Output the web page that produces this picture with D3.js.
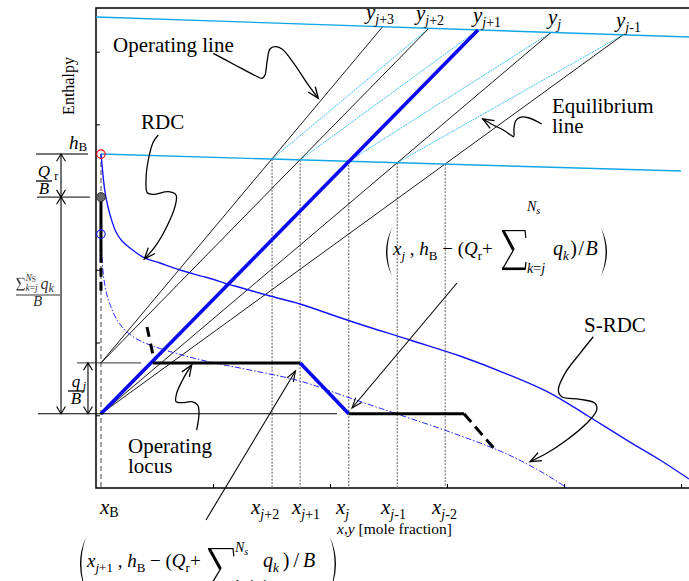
<!DOCTYPE html>
<html><head><meta charset="utf-8">
<script src="https://cdn.jsdelivr.net/npm/d3@7"></script>
<style>
body{margin:0;background:#fff}
svg{display:block}
text{font-family:"Liberation Serif","Times New Roman",serif;fill:#000}
</style>
</head><body>
<svg id="chart" width="689" height="581" font-family="Liberation Serif"></svg>
<script>
// Enthalpy–composition construction of a stripping section with side heat removal
const xB = 0.0085;            // bottoms composition
const hB = 4.592;             // bottoms enthalpy
const hQr = 4.0;              // h_B - Q_r/B
const hOpUpper = 1.72;        // h_B - (Q_r + sum_{k=j+1} q_k)/B
const hOpLower = 1.02;        // h_B - (Q_r + sum_{k=j} q_k)/B
const hSrdcStart = 3.492;     // start of the S-RDC on x = x_B

const liquidLine = [[0.0085, 4.592], [1.0, 4.358]];
const vaporLine  = [[0, 6.476], [1.02, 6.199]];

const xStages    = [0.301, 0.349, 0.432, 0.515, 0.597];
const xStageSubs = ["j+2", "j+1", "j", "j-1", "j-2"];
const yStages    = [0.490, 0.569, 0.653, 0.778, 0.901];
const yStageSubs = ["j+3", "j+2", "j+1", "j", "j-1"];
const opOrigins  = [hOpUpper, hOpUpper, hOpLower, hOpLower, hOpLower];

const rdc = [[0.0085,4.592],[0.0103,4.441],[0.0128,4.235],[0.0154,4.070],[0.0205,3.864],
  [0.0256,3.712],[0.0342,3.520],[0.0444,3.396],[0.0581,3.300],[0.0803,3.176],[0.1094,3.094],
  [0.1436,2.997],[0.1863,2.901],[0.2376,2.777],[0.2974,2.640],[0.3487,2.530],[0.4342,2.296],
  [0.5368,2.035],[0.6222,1.815],[0.7026,1.567],[0.7761,1.306],[0.8410,0.990],[0.9128,0.632],
  [0.9641,0.385],[1.0137,0.124]];

const srdc = [[0.0085,3.492],[0.0094,3.272],[0.0111,3.066],[0.0137,2.860],[0.0188,2.654],
  [0.0256,2.489],[0.0359,2.310],[0.0496,2.172],[0.0667,2.062],[0.0923,1.966],[0.1350,1.856],
  [0.1949,1.732],[0.2632,1.622],[0.3487,1.471],[0.4342,1.237],[0.5197,1.004],[0.6051,0.770],
  [0.6906,0.509],[0.7368,0.330],[0.7761,0.151],[0.8051,0]];

// operating locus pieces
const locusUpper = [[0.097, hOpUpper], [0.349, hOpUpper]];
const locusStep  = [[0.349, hOpUpper], [0.432, hOpLower]];
const locusLower = [[0.432, hOpLower], [0.629, hOpLower]];
const locusNext  = [[0.629, hOpLower], [0.680, 0.55]];
const locusPrev  = [[0.0872, 2.214], [0.0974, 1.829]];

const xTicks = [0.2, 0.4, 0.6, 0.8, 1.0];
const yTicks = [1, 2, 3, 4, 5, 6];

// ---- annotation layout (data units) ----
const xLabelAt = [0.265, 0.335, 0.4103, 0.4872, 0.5744];
const yLabelAt = [0.4615, 0.547, 0.6444, 0.7726, 0.8889];
const notes = [
  {t:"Operating line", at:[0.0291, 5.991]},
  {t:"RDC", at:[0.0769, 4.932]},
  {t:"Equilibrium", at:[0.7795, 5.152]},
  {t:"line", at:[0.7795, 4.877]},
  {t:"S-RDC", at:[0.8342, 2.149]},
  {t:"Operating", at:[0.0547, 0.477]},
  {t:"locus", at:[0.0547, 0.202]}
];
const leaders = [
  [[0.2005,5.977],[0.2376,5.816],[0.2718,5.672],[0.2838,5.633],[0.2889,5.679],[0.2923,5.857],
   [0.2974,6.036],[0.3060,6.068],[0.3179,6.036],[0.3402,5.816],[0.3607,5.568],[0.3800,5.358]],
  [[0.1065,4.854],[0.0979,4.757],[0.0894,4.510],[0.0855,4.235],[0.0877,4.060],[0.0979,4.038],
   [0.1236,4.074],[0.1368,4.029],[0.1350,3.868],[0.1209,3.593],[0.1009,3.318],[0.0826,3.149]],
  [[0.7619,5.005],[0.7390,5.091],[0.7248,5.097],[0.7174,5.050],[0.7145,4.946],[0.7140,4.830],
   [0.7089,4.854],[0.6962,4.922],[0.6791,4.991],[0.6610,5.074]],
  [[0.1721,0.797],[0.1761,1.027],[0.1738,1.141],[0.1636,1.187],[0.1482,1.173],[0.1368,1.187],
   [0.1379,1.302],[0.1465,1.462],[0.1561,1.599],[0.1636,1.691]],
  [[0.8501,2.080],[0.8274,1.852],[0.8017,1.577],[0.7903,1.347],[0.7961,1.255],[0.8274,1.220],
   [0.8530,1.165],[0.8559,1.072],[0.8388,0.890],[0.8046,0.660],[0.7704,0.477],[0.7419,0.362]]
];
const pointers = [
  [[0.6171, 2.819], [0.4376, 1.100]],
  [[0.1880, -0.440], [0.3410, 1.609]]
];

// ---- scales ----
const x = d3.scaleLinear().domain([0, 1]).range([96, 681]);
const y = d3.scaleLinear().domain([0, 6.6]).range([488, 8]);
const liquidAt = d3.scaleLinear().domain([liquidLine[0][0], liquidLine[1][0]]).range([liquidLine[0][1], liquidLine[1][1]]);
const vaporAt  = d3.scaleLinear().domain([vaporLine[0][0], vaporLine[1][0]]).range([vaporLine[0][1], vaporLine[1][1]]);

const svg = d3.select("#chart");
const line = d3.line().x(d => x(d[0])).y(d => y(d[1]));
const smooth = d3.line().x(d => x(d[0])).y(d => y(d[1])).curve(d3.curveCatmullRom.alpha(0.5));

function seg(g, pts, stroke, w, dash) {
  const p = g.append("path").attr("d", line(pts)).attr("fill", "none")
    .attr("stroke", stroke).attr("stroke-width", w);
  if (dash) p.attr("stroke-dasharray", dash);
  return p;
}
function head(g, p, q, len, ang, w) {
  const a = Math.atan2(q[1] - p[1], q[0] - p[0]);
  g.append("path").attr("fill", "none").attr("stroke", "#000").attr("stroke-width", w || 1.2)
    .attr("d", `M${q[0] - len * Math.cos(a - ang)},${q[1] - len * Math.sin(a - ang)}L${q[0]},${q[1]}L${q[0] - len * Math.cos(a + ang)},${q[1] - len * Math.sin(a + ang)}`);
}
function rich(g, px, py, parts, base) {
  const t = g.append("text").attr("x", px).attr("y", py).attr("font-size", base);
  parts.forEach(p => {
    const s = t.append("tspan").text(p.t).attr("y", py + (p.dy || 0)).attr("font-size", p.s || base);
    if (p.it) s.attr("font-style", "italic");
    if (p.dx) s.attr("dx", p.dx);
    if (p.ls) s.attr("letter-spacing", p.ls);
  });
  return t;
}
function subParts(name, size, dy) {
  return [{t: name[0], it: name[0] === "j", s: size, dy: dy}].concat(
    name.length > 1 ? [{t: name.slice(1), s: size, dy: dy}] : []);
}
function sigma(g, x0, y0, w, h, col, k) {
  const c = col || "#000", f = k || 1;
  const st = (d, sw) => g.append("path").attr("d", d).attr("fill", "none").attr("stroke", c).attr("stroke-width", sw * f);
  st(`M${x0},${y0 + 0.6 * f}L${x0 + w},${y0 + 0.6 * f}`, 1.2);
  st(`M${x0 + w},${y0}L${x0 + w + 0.8 * f},${y0 + h * 0.2}`, 1.2);
  st(`M${x0 + 1.2 * f},${y0 + 0.6 * f}L${x0 + w * 0.5},${y0 + h * 0.5}`, 3);
  st(`M${x0 + w * 0.5},${y0 + h * 0.5}L${x0 + 0.5 * f},${y0 + h - 1 * f}`, 1.3);
  st(`M${x0},${y0 + h - 1.2 * f}L${x0 + w},${y0 + h - 1.2 * f}`, 2.6);
  st(`M${x0 + w},${y0 + h}L${x0 + w + 1 * f},${y0 + h * 0.8}`, 1.3);
}

// ---- frame and ticks ----
svg.append("path").attr("fill", "none").attr("stroke", "#000").attr("stroke-width", 1.5)
  .attr("d", `M${x(1.02)},${y(6.6)}L${x(0)},${y(6.6)}L${x(0)},${y(0)}L${x(1.02)},${y(0)}`);
svg.append("g").attr("transform", `translate(0,${y(0)})`)
  .call(d3.axisBottom(x).tickValues(xTicks).tickSize(-4).tickFormat(""))
  .call(a => a.select(".domain").remove())
  .call(a => a.selectAll("line").attr("stroke-width", 1));
svg.append("g").attr("transform", `translate(${x(0)},0)`)
  .call(d3.axisLeft(y).tickValues(yTicks).tickSize(-4).tickFormat(""))
  .call(a => a.select(".domain").remove())
  .call(a => a.selectAll("line").attr("stroke-width", 1));

const plot = svg.append("g");

// stage verticals
xStages.forEach(xs => seg(plot, [[xs, liquidAt(xs)], [xs, 0]], "#808080", 1.3, "2,1.4"));
// x_B vertical
seg(plot, [[xB, hB], [xB, 0]], "#555", 1.1, "5,3");

// equilibrium tie lines
xStages.slice(0, 4).forEach((xs, i) =>
  seg(plot, [[xs, liquidAt(xs)], [yStages[i + 1], vaporAt(yStages[i + 1])]], "#3ec3f2", 1, "2,0.8"));

// operating lines
yStages.forEach((ys, i) => {
  if (i === 2) return;
  seg(plot, [[xB, opOrigins[i]], [ys, vaporAt(ys)]], "#000", 0.9);
});

// saturated lines
seg(plot, vaporLine, "#12a6e4", 1.4);
seg(plot, liquidLine, "#12a6e4", 1.4);

// RDC and S-RDC
plot.append("path").attr("d", smooth(rdc)).attr("fill", "none").attr("stroke", "#1414ff").attr("stroke-width", 1.4);
plot.append("path").attr("d", smooth(srdc)).attr("fill", "none").attr("stroke", "#2a2aff").attr("stroke-width", 1)
  .attr("stroke-dasharray", "6,2,1.5,2");

// thick operating line to y_{j+1}
seg(plot, [[xB, hOpLower], [yStages[2], vaporAt(yStages[2])]], "#0a0af0", 3.6);

// dimension reference lines
seg(plot, [[-0.1026, hB], [-0.0137, hB]], "#777", 2);
seg(plot, [[-0.1009, hQr], [-0.0103, hQr]], "#000", 1);
seg(plot, [[-0.0325, hOpUpper], [0.0769, hOpUpper]], "#333", 1);
seg(plot, [[-0.0991, hOpLower], [0.412, hOpLower]], "#000", 1.1);

// operating locus
seg(plot, locusUpper, "#000", 3);
seg(plot, locusStep, "#0a0af0", 3.6);
seg(plot, locusLower, "#000", 3);
seg(plot, locusNext, "#000", 3, "11,6");
seg(plot, locusPrev, "#000", 3, "10,7");

// thick bottoms segment on x_B
seg(plot, [[xB, hQr], [xB, 3.22]], "#000", 3);
seg(plot, [[xB, 3.22], [xB, 2.66]], "#000", 3, "9,5");

// characteristic points
plot.append("circle").attr("cx", x(xB)).attr("cy", y(hB)).attr("r", 4.2).attr("fill", "none").attr("stroke", "#f00").attr("stroke-width", 1.1);
plot.append("circle").attr("cx", x(xB)).attr("cy", y(hQr)).attr("r", 4.5).attr("fill", "#666").attr("stroke", "#333").attr("stroke-width", 1);
plot.append("circle").attr("cx", x(xB)).attr("cy", y(hSrdcStart)).attr("r", 4.2).attr("fill", "none").attr("stroke", "#1a1aff").attr("stroke-width", 1.1);

// ---- dimension arrows ----
const dims = svg.append("g");
function dimArrow(xd, h0, h1) {
  const a = [x(xd), y(h0)], b = [x(xd), y(h1)];
  dims.append("path").attr("d", `M${a[0]},${a[1]}L${b[0]},${b[1]}`).attr("stroke", "#000").attr("stroke-width", 1.1);
  head(dims, b, a, 8.5, 0.55, 1.1);
  head(dims, a, b, 8.5, 0.55, 1.1);
}
dimArrow(-0.0598, hB, hQr);
dimArrow(-0.0598, hQr, hOpLower);
dimArrow(-0.0137, hOpUpper, hOpLower);

// ---- leaders ----
const ann = svg.append("g");
leaders.forEach(pts => {
  ann.append("path").attr("d", smooth(pts)).attr("fill", "none").attr("stroke", "#000").attr("stroke-width", 1.3);
  const n = pts.length;
  head(ann, [x(pts[n - 2][0]), y(pts[n - 2][1])], [x(pts[n - 1][0]), y(pts[n - 1][1])], 12, 0.38, 1.3);
});
pointers.forEach(pts => {
  seg(ann, pts, "#000", 1.1);
  head(ann, [x(pts[0][0]), y(pts[0][1])], [x(pts[1][0]), y(pts[1][1])], 11, 0.35, 1.1);
});

// ---- texts ----
const txt = svg.append("g");
notes.forEach(n => txt.append("text").attr("x", x(n.at[0])).attr("y", y(n.at[1])).attr("font-size", 21).text(n.t));

txt.append("text").attr("transform", `translate(74,86) rotate(-90)`).attr("text-anchor", "middle")
  .attr("font-size", 16).text("Enthalpy");

// composition labels
rich(txt, x(0.0068), y(-0.357), [{t: "x", it: true}, {t: "B", s: 14, dy: 3}], 21);
xStageSubs.forEach((s, i) =>
  rich(txt, x(xLabelAt[i]), y(-0.357), [{t: "x", it: true}].concat(subParts(s, 14, 5)), 21));
yStageSubs.forEach((s, i) =>
  rich(txt, x(yLabelAt[i]), y(vaporAt(yStages[i])) - 8, [{t: "y", it: true}].concat(subParts(s, 14, 5)), 21));
rich(txt, x(0.412), y(-0.632), [{t: "x,y", it: true}, {t: " [mole fraction]"}], 15.5);

// left side labels
rich(txt, x(-0.0462), y(4.661), [{t: "h", it: true}, {t: "B", s: 13, dy: 2}], 19);
function fraction(left, barH, width, num, den, size) {
  const by = y(barH), bx = x(left);
  txt.append("path").attr("d", `M${bx},${by}L${bx + width},${by}`).attr("stroke", "#000").attr("stroke-width", 1.3);
  rich(txt, bx + width / 2, by - 4, num, size).attr("text-anchor", "middle");
  rich(txt, bx + width / 2, by + 13, den, size).attr("text-anchor", "middle");
}
fraction(-0.1026, 4.221, 16, [{t: "Q", it: true}, {t: "r", s: 12, dy: 3}], [{t: "B", it: true}], 17);
fraction(-0.0479, 1.334, 16, [{t: "q", it: true}, {t: "j", it: true, s: 12, dy: 3}], [{t: "B", it: true}], 17);
// summation fraction
(function () {
  const by = y(2.654), bx = x(-0.1368), c = "#333";
  txt.append("path").attr("d", `M${bx},${by}L${bx + 44},${by}`).attr("stroke", c).attr("stroke-width", 1.2);
  const g = txt.append("g");
  sigma(g, bx + 0.5, by - 17, 7.5, 12.5, c, 0.55);
  rich(g, bx + 9.5, by - 13.5, [{t: "N", it: true, s: 9.5}, {t: "S", s: 7.5, dy: 1}], 9.5).style("fill", c);
  rich(g, bx + 9.5, by - 4, [{t: "k", it: true}, {t: "="}, {t: "j", it: true}], 9.5).style("fill", c);
  rich(g, bx + 24.5, by - 5.5, [{t: "q", it: true}, {t: "k", it: true, s: 12, dy: 3}], 16).style("fill", c);
  rich(g, bx + 17, by + 11, [{t: "B", it: true}], 15).style("fill", c);
})();

// ---- locus point formulas ----
function paren(g, x0, y0, y1, open) {
  const m = (y0 + y1) / 2, w = 9;
  const d = open
    ? `M${x0 + w},${y0}Q${x0 - 3},${m} ${x0 + w},${y1}Q${x0 - 0.2},${m} ${x0 + w},${y0}Z`
    : `M${x0},${y0}Q${x0 + w + 3},${m} ${x0},${y1}Q${x0 + w + 0.2},${m} ${x0},${y0}Z`;
  g.append("path").attr("d", d).attr("fill", "#000");
}
function locusFormula(at, sub, sumSub, o) {
  const X = x(at[0]), B = y(at[1]);
  const g = txt.append("g");
  paren(g, X, B + o.pTop, B + o.pBot, true);
  rich(g, X + 10, B, [{t: "x", it: true}].concat(subParts(sub, 13, 5), [
    {t: " , "}, {t: "h", it: true}, {t: "B", s: 13, dy: 5}, {t: " − ("}, {t: "Q", it: true},
    {t: "r", s: 13, dy: 5}, {t: "+"}]), 19);
  sigma(g, X + o.sx, B + o.sTop, o.sw, o.sh);
  rich(g, X + o.sx + o.sw + 2, B + o.supY, [{t: "N", it: true, s: 14}, {t: "s", it: true, s: 10, dy: 3}], 14);
  rich(g, X + o.sx + o.sw + 2, B + o.subY, [{t: "k", it: true}, {t: "="}, {t: sumSub[0], it: true}, {t: sumSub.slice(1)}], 14);
  rich(g, X + o.qx, B, [{t: "q", it: true, s: 20}, {t: "k", it: true, s: 13, dy: 5},
    {t: ")", s: 20, dx: o.gap}, {t: "/", s: 20, dx: o.gap}, {t: "B", it: true, s: 20, dx: o.gap}], 19);
  paren(g, X + o.cx, B + o.pTop, B + o.pBot, false);
}
locusFormula([0.4906, 3.204], "j", "j",
  {pTop: -27, pBot: 21, sx: 119, sTop: -25, sw: 23, sh: 40, supY: -44, subY: 18, qx: 170, cx: 218, gap: 1.5});
locusFormula([-0.0325, -1.086], "j+1", "j+1",
  {pTop: -30, pBot: 24, sx: 131, sTop: -19, sw: 25, sh: 42, supY: -15, subY: 23, qx: 186, cx: 253, gap: 4});
</script>
</body></html>
